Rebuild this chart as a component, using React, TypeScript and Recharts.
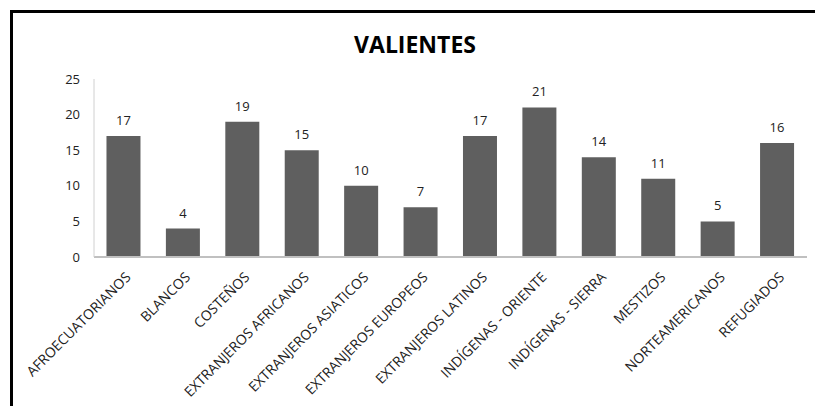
import React from 'react';
import { BarChart, Bar, XAxis, YAxis, LabelList } from 'recharts';

const categories = [
    'AFROECUATORIANOS',
    'BLANCOS',
    'COSTEÑOS',
    'EXTRANJEROS AFRICANOS',
    'EXTRANJEROS ASIATICOS',
    'EXTRANJEROS EUROPEOS',
    'EXTRANJEROS LATINOS',
    'INDÍGENAS - ORIENTE',
    'INDÍGENAS - SIERRA',
    'MESTIZOS',
    'NORTEAMERICANOS',
    'REFUGIADOS',
];
const values = [17, 4, 19, 15, 10, 7, 17, 21, 14, 11, 5, 16];
const yTicks = [0, 5, 10, 15, 20, 25];

const data = categories.map((name, i) => ({ name, value: values[i] }));

const FONT = '"Open Sans", sans-serif';

// rotated category labels, ending just under the axis
const CategoryTick = (props: any) => {
    const { x, y, payload } = props;
    return (
        <g transform={`translate(${x + 8},${y + 13})`}>
            <text
                x={0}
                y={0}
                textAnchor="end"
                transform="rotate(-45)"
                fontSize={14}
                fontFamily={FONT}
                fill="#222"
            >
                {payload.value}
            </text>
        </g>
    );
};

export default function App() {
    return (
        <div style={{ position: 'absolute', left: 0, top: 0, width: 815, height: 406, overflow: 'hidden', background: '#fff' }}>
            {/* chart frame, cropped: only top and left edges show */}
            <div style={{ position: 'absolute', left: 10, top: 10, width: 805, height: 3, background: '#000' }} />
            <div style={{ position: 'absolute', left: 10, top: 10, width: 3, height: 396, background: '#000' }} />
            <div
                style={{
                    position: 'absolute',
                    left: 0,
                    top: 28,
                    width: 830,
                    textAlign: 'center',
                    fontFamily: FONT,
                    fontWeight: 700,
                    fontSize: 23,
                    color: '#000',
                }}
            >
                VALIENTES
            </div>
            <div style={{ position: 'absolute', left: 0, top: 0 }}>
                <BarChart
                    width={815}
                    height={406}
                    data={data}
                    margin={{ top: 79, right: 8, left: 54, bottom: 9 }}
                    barCategoryGap="21%"
                >
                    <XAxis
                        dataKey="name"
                        interval={0}
                        height={140}
                        axisLine={{ stroke: '#c0c0c0', strokeWidth: 2 }}
                        tickLine={false}
                        tick={<CategoryTick />}
                    />
                    <YAxis
                        width={40}
                        domain={[0, 25]}
                        ticks={yTicks}
                        interval={0}
                        axisLine={{ stroke: '#d0d0d0', strokeWidth: 1 }}
                        tickLine={false}
                        tickSize={6}
                        tickMargin={8}
                        tick={{ fontSize: 13, fontFamily: FONT, fill: '#222' }}
                    />
                    <Bar dataKey="value" fill="#5f5f5f" isAnimationActive={false}>
                        <LabelList
                            dataKey="value"
                            position="top"
                            offset={11}
                            style={{ fontSize: 13, fontFamily: FONT, fill: '#222' }}
                        />
                    </Bar>
                </BarChart>
            </div>
        </div>
    );
}
